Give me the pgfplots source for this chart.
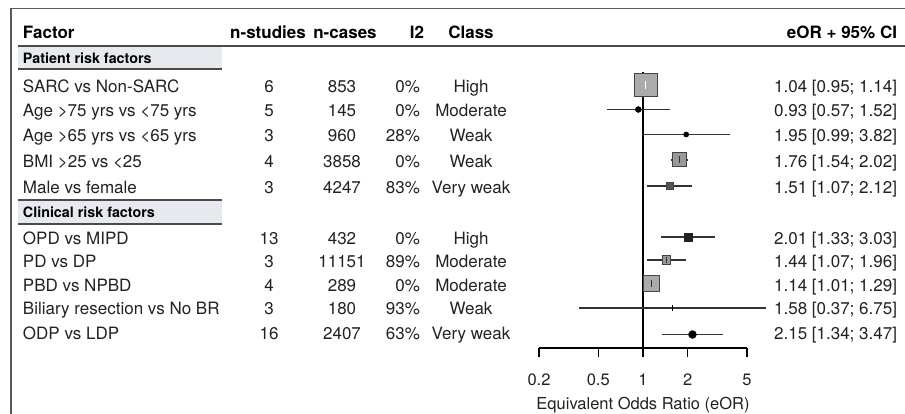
\documentclass[border=0pt]{standalone}
\usepackage{fontspec}
\setmainfont{TeX Gyre Heros}
\usepackage{pgfplots}
\pgfplotsset{compat=1.18}
\definecolor{txt}{HTML}{222222}
\definecolor{rulec}{HTML}{4A4A4A}
\definecolor{boxfill}{HTML}{E6EAEE}
\definecolor{framec}{HTML}{5A5A5A}
\definecolor{cic}{HTML}{333333}
\definecolor{sqA}{HTML}{ABABAB}
\definecolor{sqB}{HTML}{999999}
\definecolor{sqC}{HTML}{555555}
\definecolor{sqD}{HTML}{222222}
\definecolor{edge}{HTML}{444444}
\begin{document}
\begin{tikzpicture}[x=1pt,y=-1pt,
  t/.style={inner sep=0pt, outer sep=0pt, text height=12.2pt, text depth=0pt, font=\fontsize{17}{20}\selectfont, text=txt},
  h/.style={t, font=\fontsize{17}{20}\selectfont\bfseries, text=black},
  g/.style={inner sep=0pt, outer sep=0pt, text height=10.3pt, text depth=0pt, font=\fontsize{14.3}{17}\selectfont\bfseries, text=black}]
\useasboundingbox (0,0) rectangle (905,414);
% frame
\draw[framec, line width=1.5pt] (11,414) -- (11,8.5) -- (905,8.5);
% header
\node[h, anchor=west] at (23,32) {Factor};
\node[h] at (268,32) {n-studies};
\node[h] at (345,32) {n-cases};
\node[h] at (417,32) {I2};
\node[h] at (471,32) {Class};
\node[h, anchor=east] at (897,32) {eOR + 95\% CI};
\draw[rulec, line width=1.5pt] (18,46) -- (905,46);
% group boxes
\fill[boxfill] (18,47) rectangle (222,68);
\draw[rulec, line width=2pt] (18,69) -- (222,69);
\node[g, anchor=west] at (23,58) {Patient risk factors};
\draw[rulec, line width=2pt] (18,200.5) -- (222,200.5);
\fill[boxfill] (18,201.5) rectangle (222,223);
\draw[rulec, line width=2pt] (18,224) -- (222,224);
\node[g, anchor=west] at (23,212.5) {Clinical risk factors};
% rows
\foreach \y/\name/\ns/\nc/\ii/\cl/\eor in {
  86/SARC vs Non-SARC/6/853/0\%/High/{1.04 [0.95; 1.14]},
  110.5/Age >75 yrs vs <75 yrs/5/145/0\%/Moderate/{0.93 [0.57; 1.52]},
  135/Age >65 yrs vs <65 yrs/3/960/28\%/Weak/{1.95 [0.99; 3.82]},
  161/BMI >25 vs <25/4/3858/0\%/Weak/{1.76 [1.54; 2.02]},
  187/Male vs female/3/4247/83\%/Very weak/{1.51 [1.07; 2.12]},
  238/OPD vs MIPD/13/432/0\%/High/{2.01 [1.33; 3.03]},
  261.5/PD vs DP/3/11151/89\%/Moderate/{1.44 [1.07; 1.96]},
  285/PBD vs NPBD/4/289/0\%/Moderate/{1.14 [1.01; 1.29]},
  308.5/Biliary resection vs No BR/3/180/93\%/Weak/{1.58 [0.37; 6.75]},
  333.5/ODP vs LDP/16/2407/63\%/Very weak/{2.15 [1.34; 3.47]}}{
  \node[t, anchor=west] at (23,\y) {\name};
  \node[t] at (269,\y) {\ns};
  \node[t] at (342,\y) {\nc};
  \node[t, anchor=east] at (420,\y) {\ii};
  \node[t] at (471,\y) {\cl};
  \node[t, anchor=east] at (897,\y) {\eor};
}
\begin{axis}[at={(539pt,0pt)}, anchor=north west, scale only axis,
  width=208pt, height=348pt, xmode=log, xmin=0.2, xmax=5,
  ymin=-348, ymax=0, axis x line*=bottom, axis y line=none, clip=false,
  xtick={0.2,0.5,1,2,5}, xticklabels={0.2,0.5,1,2,5}, xminorticks=false,
  tick align=outside, major tick length=9pt,
  x axis line style={black, line width=1.2pt},
  every tick/.style={black, line width=1.2pt},
  /pgf/number format/assume math mode=true,
  xticklabel style={anchor=north, yshift=-16.5pt, inner sep=0pt, text height=12pt, text depth=0pt, font=\fontsize{16.5}{19}\selectfont, text=txt},
  xlabel={Equivalent Odds Ratio (eOR)},
  xlabel style={at={(axis description cs:0.5,0)}, anchor=center, yshift=-55pt, inner sep=0pt, text height=12pt, text depth=0pt, font=\fontsize{16.5}{19}\selectfont, text=txt},
  ci/.style={cic, line width=1.3pt},
  ]
% reference line at eOR = 1
\addplot[black, line width=1.4pt] coordinates {(1,-72) (1,-348)};
% confidence intervals
\addplot[ci] coordinates {(0.95,-85) (1.14,-85)};
\addplot[ci] coordinates {(0.57,-109.5) (1.52,-109.5)};
\addplot[ci] coordinates {(0.99,-134.5) (3.82,-134.5)};
\addplot[ci] coordinates {(1.54,-160) (2.02,-160)};
\addplot[ci] coordinates {(1.07,-186) (2.12,-186)};
\addplot[ci] coordinates {(1.33,-237) (3.03,-237)};
\addplot[ci] coordinates {(1.07,-260) (1.96,-260)};
\addplot[ci] coordinates {(1.01,-283.5) (1.29,-283.5)};
\addplot[ci] coordinates {(0.37,-308) (6.75,-308)};
\addplot[ci] coordinates {(1.34,-334.5) (3.47,-334.5)};
% point estimates
\addplot[only marks, mark=square*, mark size=11.5pt, mark options={fill=sqA, draw=edge, line width=1pt}] coordinates {(1.04,-85)};
\addplot[only marks, mark=*, mark size=3pt, mark options={fill=black, draw=black}] coordinates {(0.93,-109.5)};
\addplot[only marks, mark=*, mark size=2.6pt, mark options={fill=black, draw=black}] coordinates {(1.95,-134.5)};
\addplot[only marks, mark=square*, mark size=7pt, mark options={fill=sqB, draw=edge, line width=1pt}] coordinates {(1.76,-160)};
\addplot[only marks, mark=square*, mark size=3.5pt, mark options={fill=sqC, draw=edge, line width=0.8pt}] coordinates {(1.51,-186)};
\addplot[only marks, mark=square*, mark size=4.2pt, mark options={fill=sqD, draw=sqD}] coordinates {(2.01,-237)};
\addplot[only marks, mark=square*, mark size=4.2pt, mark options={fill=sqB, draw=edge, line width=1pt}] coordinates {(1.44,-260)};
\addplot[only marks, mark=square*, mark size=8pt, mark options={fill=sqA, draw=edge, line width=1pt}] coordinates {(1.14,-283.5)};
\addplot[only marks, mark=|, mark size=3pt, mark options={draw=black, line width=1.6pt}] coordinates {(1.58,-308)};
\addplot[only marks, mark=*, mark size=4pt, mark options={fill=black, draw=black}] coordinates {(2.15,-334.5)};
% interval and estimate ticks drawn over the larger squares
\addplot[white, line width=1pt] coordinates {(0.95,-85) (1.14,-85)};
\addplot[only marks, mark=|, mark size=4pt, mark options={draw=white, line width=1pt}] coordinates {(1.04,-85)};
\addplot[ci] coordinates {(1.54,-160) (2.02,-160)};
\addplot[only marks, mark=|, mark size=3.5pt, mark options={draw=cic, line width=1pt}] coordinates {(1.76,-160)};
\addplot[ci] coordinates {(1.07,-260) (1.96,-260)};
\addplot[only marks, mark=|, mark size=3pt, mark options={draw=cic, line width=1pt}] coordinates {(1.44,-260)};
\addplot[ci] coordinates {(1.01,-283.5) (1.29,-283.5)};
\addplot[only marks, mark=|, mark size=3.5pt, mark options={draw=cic, line width=1pt}] coordinates {(1.14,-283.5)};
\end{axis}
\end{tikzpicture}
\end{document}
